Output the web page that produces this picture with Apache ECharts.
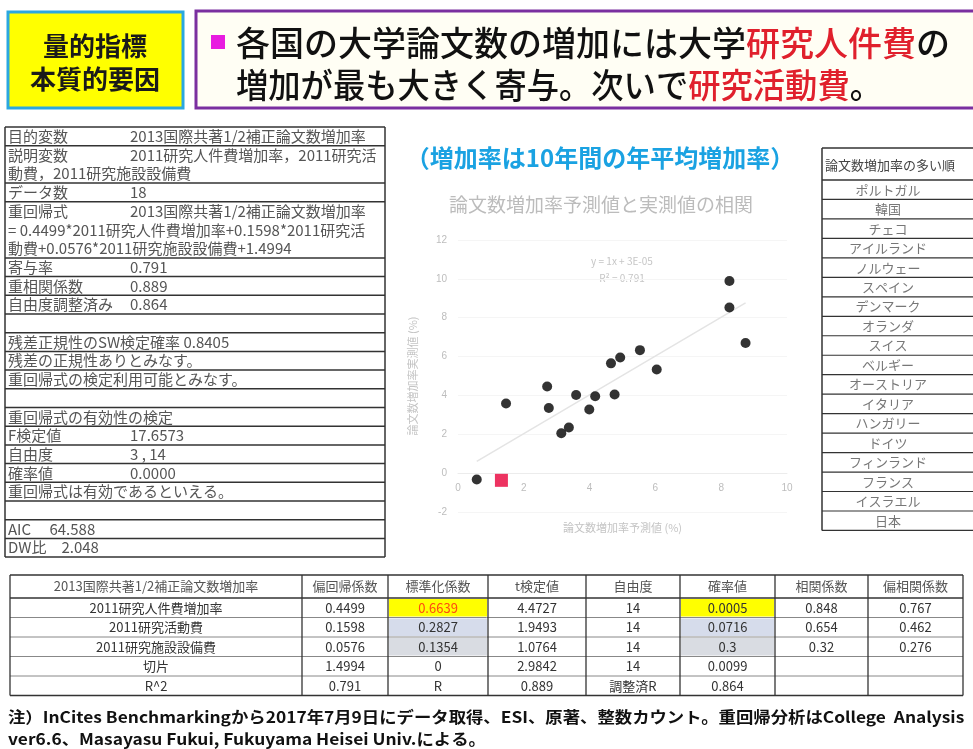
<!DOCTYPE html>
<html><head><meta charset="utf-8">
<script src="https://cdn.jsdelivr.net/npm/echarts@6/dist/echarts.min.js"></script>
<style>html,body{margin:0;padding:0;background:#fff;}#c{width:973px;height:749px;}</style>
</head><body><div id="c"></div>
<script>
// ---- scatter data: predicted vs actual growth rate (%) ----
const predicted = [0.57, 1.32, 1.46, 2.71, 2.76, 3.14, 3.37, 3.59, 3.99, 4.17, 4.65, 4.76, 4.93, 5.53, 6.04, 8.25, 8.25, 8.74];
const actual    = [-0.33, -0.37, 3.58, 4.46, 3.35, 2.05, 2.35, 4.02, 3.28, 3.96, 5.65, 4.05, 5.95, 6.33, 5.33, 9.89, 8.53, 6.70];
const highlightIndex = 1;
const xTicks = [0, 10, 2];   // min, max, interval
const yTicks = [-2, 12, 2];

// ---- right table: countries ----
const countryHeader = '論文数増加率の多い順';
const countries = ['ポルトガル','韓国','チェコ','アイルランド','ノルウェー','スペイン','デンマーク','オランダ','スイス','ベルギー','オーストリア','イタリア','ハンガリー','ドイツ','フィンランド','フランス','イスラエル','日本'];

// ---- left table: regression summary ----
const leftRows = [
  ['目的変数', '2013国際共著1/2補正論文数増加率'],
  ['説明変数', '2011研究人件費増加率，2011研究活', '動費，2011研究施設設備費'],
  ['データ数', '18'],
  ['重回帰式', '2013国際共著1/2補正論文数増加率', '= 0.4499*2011研究人件費増加率+0.1598*2011研究活', '動費+0.0576*2011研究施設設備費+1.4994'],
  ['寄与率', '0.791'],
  ['重相関係数', '0.889'],
  ['自由度調整済み', '0.864'],
  ['', ''],
  ['残差正規性のSW検定確率 0.8405', ''],
  ['残差の正規性ありとみなす。', ''],
  ['重回帰式の検定利用可能とみなす。', ''],
  ['', ''],
  ['重回帰式の有効性の検定', ''],
  ['F検定値', '17.6573'],
  ['自由度', '3 , 14'],
  ['確率値', '0.0000'],
  ['重回帰式は有効であるといえる。', ''],
  ['', ''],
  ['AIC　 64.588', ''],
  ['DW比　2.048', '']
];

// ---- bottom table ----
const bottomHeader = ['2013国際共著1/2補正論文数増加率','偏回帰係数','標準化係数','t検定値','自由度','確率値','相関係数','偏相関係数'];
const bottomRows = [
  ['2011研究人件費増加率','0.4499','0.6639','4.4727','14','0.0005','0.848','0.767'],
  ['2011研究活動費','0.1598','0.2827','1.9493','14','0.0716','0.654','0.462'],
  ['2011研究施設設備費','0.0576','0.1354','1.0764','14','0.3','0.32','0.276'],
  ['切片','1.4994','0','2.9842','14','0.0099','',''],
  ['R^2','0.791','R','0.889','調整済R','0.864','','']
];

// ---- texts ----
const badgeLines = ['量的指標', '本質的要因'];
const headline1 = ['各国の大学論文数の増加には大学', '研究人件費', 'の'];
const headline2 = ['増加が最も大きく寄与。次いで', '研究活動費', '。'];
const subtitle = '（増加率は10年間の年平均増加率）';
const chartTitle = '論文数増加率予測値と実測値の相関';
const xName = '論文数増加率予測値 (%)';
const yName = '論文数増加率実測値 (%)';
const eqLines = ['y = 1x + 3E-05', 'R² = 0.791'];
const footer = ['注）InCites Benchmarkingから2017年7月9日にデータ取得、ESI、原著、整数カウント。重回帰分析はCollege  Analysis',
                'ver6.6、Masayasu Fukui, Fukuyama Heisei Univ.による。'];

const JP = '"Noto Sans CJK JP", "Noto Sans", sans-serif';
const g = [];
function rect(x,y,w,h,style){ g.push({type:'rect', shape:{x,y,width:w,height:h}, style, silent:true}); }
function line(x1,y1,x2,y2,stroke,lw){ g.push({type:'line', shape:{x1,y1,x2,y2}, style:{stroke, lineWidth:lw}, silent:true}); }
function text(t,x,y,font,fill,align){ g.push({type:'text', style:{text:t, x, y, font, fill, textAlign:align||'left', textVerticalAlign:'middle'}, silent:true}); }
function stext(t,x,y,font,fill,sx,rich){ const s={text:t, x:0, y:0, font, fill, textAlign:'left', textVerticalAlign:'middle'}; if(rich) s.rich=rich; g.push({type:'text', x, y, scaleX:sx, style:s, silent:true}); }

// header badge
rect(8,12,175,96,{fill:'#ffff00', stroke:'#2aa7e0', lineWidth:3});
text(badgeLines[0], 95, 46, 'bold 26px '+JP, '#1a1a1a', 'center');
text(badgeLines[1], 95, 79, 'bold 26px '+JP, '#1a1a1a', 'center');
// headline box
rect(196,11,800,97,{fill:'#fffef4', stroke:'#7a2fa0', lineWidth:3});
rect(211,35,14,14,{fill:'#e81ce0'});
const hrich = {k:{font:'500 34px '+JP, fill:'#111'}, r:{font:'500 34px '+JP, fill:'#e0202c'}};
stext('{k|'+headline1[0]+'}{r|'+headline1[1]+'}{k|'+headline1[2]+'}', 236, 43, '500 34px '+JP, '#111', 1.0, hrich);
stext('{k|'+headline2[0]+'}{r|'+headline2[1]+'}{k|'+headline2[2]+'}', 236, 85, '500 34px '+JP, '#111', 0.95, hrich);

// subtitle + chart title + equation
text(subtitle, 600, 158, 'bold 24px '+JP, '#1aa2e2', 'center');
text(chartTitle, 601, 205, '19px '+JP, '#bcbcbc', 'center');
text(eqLines[0], 622, 261, '10px '+JP, '#c6c6c6', 'center');
text(eqLines[1], 622, 278, '10px '+JP, '#c6c6c6', 'center');

// left table
(function(){
  const x0=5, x1=385, top=127, rh=18.7, vx=130;
  let y=top;
  line(x0,top,x1,top,'#333',1.5);
  leftRows.forEach(r=>{
    const n = Math.max(1, r.length-1);
    const cy = y + rh/2;
    text(r[0], x0+3, cy, '15px '+JP, '#555', 'left');
    if (r[1]) text(r[1], vx, cy, '15px '+JP, '#555', 'left');
    for (let i=2;i<r.length;i++) text(r[i], x0+3, y + rh*(i-1) + rh/2, '15px '+JP, '#555', 'left');
    y += rh*n;
    line(x0,y,x1,y,'#333',1.5);
  });
  line(x0,top,x0,y,'#333',1.5);
  line(x1,top,x1,y,'#333',1.5);
})();

// right table
(function(){
  const x0=822, x1=990, top=148, hh=32, rh=19.47;
  line(x0,top,x1,top,'#333',1.5);
  text(countryHeader, x0+3, top+hh/2+1, '13px '+JP, '#444', 'left');
  let y = top+hh;
  line(x0,y,x1,y,'#333',1.5);
  countries.forEach(c=>{
    text(c, 888, y+rh/2, '13px '+JP, '#777', 'center');
    y += rh;
    line(x0,y,x1,y,'#333',1.2);
  });
  line(x0,top,x0,y,'#333',1.5);
})();

// bottom table
(function(){
  const cols=[10,302,388,488,586,680,775,868,963];
  const top=575, hh=23, rh=19.5;
  const fills = {'0,2':'#ffff00','0,5':'#ffff00','1,2':'#d6dceb','1,5':'#d6dceb','2,2':'#d9dce2','2,5':'#d9dce2'};
  const hb = top+hh;
  bottomRows.forEach((r,ri)=>{
    r.forEach((v,ci)=>{
      const f = fills[ri+','+ci];
      if (f) rect(cols[ci]+1, hb+ri*rh+1, cols[ci+1]-cols[ci]-2, rh-2, {fill:f});
    });
  });
  bottomHeader.forEach((h,ci)=> text(h,(cols[ci]+cols[ci+1])/2, top+hh/2, '13px '+JP, '#555', 'center'));
  bottomRows.forEach((r,ri)=>{
    r.forEach((v,ci)=>{
      if (v==='') return;
      const col = (ri===0 && ci===2) ? '#ff4a10' : '#333';
      text(v,(cols[ci]+cols[ci+1])/2, hb+ri*rh+rh/2, '13px '+JP, col, 'center');
    });
  });
  const bottom = hb + rh*bottomRows.length;
  line(cols[0],top,cols[8],top,'#333',1.5);
  line(cols[0],hb,cols[8],hb,'#333',1.5);
  for (let i=1;i<bottomRows.length;i++) line(cols[0],hb+i*rh,cols[8],hb+i*rh,'#888',1);
  line(cols[0],bottom,cols[8],bottom,'#333',1.5);
  cols.forEach(c=> line(c,top,c,bottom,'#333',1.3));
})();

// footer
stext(footer[0], 8, 717, 'bold 15.5px '+JP, '#111', 1.12);
stext(footer[1], 8, 739, 'bold 15.5px '+JP, '#111', 1.12);

// regression line computed from data
const n = predicted.length;
const mx = predicted.reduce((a,b)=>a+b,0)/n, my = actual.reduce((a,b)=>a+b,0)/n;
let sxy=0,sxx=0; for(let i=0;i<n;i++){sxy+=(predicted[i]-mx)*(actual[i]-my); sxx+=(predicted[i]-mx)**2;}
const slope=sxy/sxx, icpt=my-slope*mx;
const xmin=Math.min(...predicted), xmax=Math.max(...predicted);

const scatterData = predicted.map((x,i)=>{
  const d = {value:[x, actual[i]]};
  if (i===highlightIndex) { d.symbol='rect'; d.symbolSize=13; d.itemStyle={color:'#e8003a'}; }
  return d;
});

const gridH = 272;
const xAxisOffset = -(0 - yTicks[0]) / (yTicks[1] - yTicks[0]) * gridH; // place x axis at y = 0

const chart = echarts.init(document.getElementById('c'), null, {renderer:'canvas'});
chart.setOption({
  animation:false,
  backgroundColor:'#fff',
  grid:{left:458, top:240, width:329, height:gridH, containLabel:false},
  xAxis:{type:'value', min:xTicks[0], max:xTicks[1], interval:xTicks[2], offset:xAxisOffset,
    name:xName, nameLocation:'middle', nameGap:49, nameTextStyle:{color:'#c4c4c4', fontSize:11, fontFamily:'Noto Sans CJK JP'},
    axisLine:{onZero:false, lineStyle:{color:'#ececec'}}, axisTick:{show:false},
    axisLabel:{color:'#bdbdbd', fontSize:10, margin:10}, splitLine:{show:false}},
  yAxis:{type:'value', min:yTicks[0], max:yTicks[1], interval:yTicks[2],
    name:yName, nameLocation:'middle', nameGap:40, nameTextStyle:{color:'#c4c4c4', fontSize:11, fontFamily:'Noto Sans CJK JP'},
    axisLine:{show:false}, axisTick:{show:false},
    axisLabel:{color:'#bdbdbd', fontSize:10, margin:11}, splitLine:{lineStyle:{color:'#f5f5f5'}}},
  series:[
    {type:'line', data:[[xmin, slope*xmin+icpt],[xmax, slope*xmax+icpt]], symbol:'none',
     lineStyle:{color:'#e4e4e4', width:1.5}, silent:true, z:1},
    {type:'scatter', data:scatterData, symbol:'circle', symbolSize:10, itemStyle:{color:'#000'}, z:3}
  ],
  graphic:g
});
</script>
</body></html>
